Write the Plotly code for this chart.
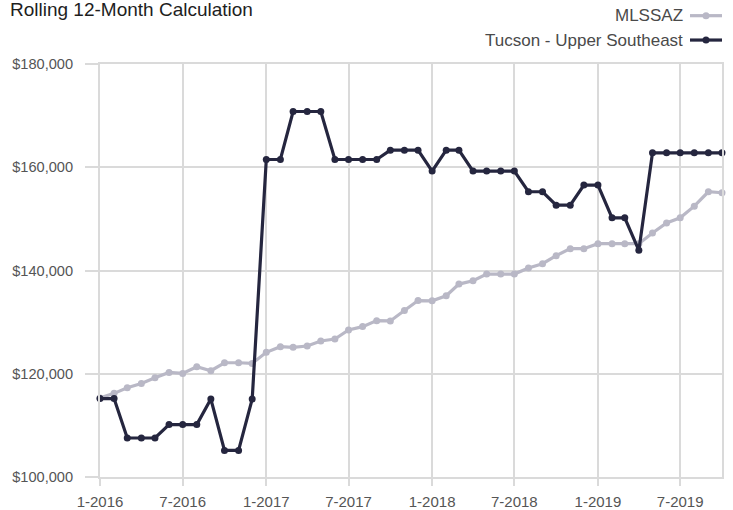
import plotly.graph_objects as go
import pandas as pd

# Monthly rolling 12-month values, Jan 2016 - Oct 2019
months = pd.date_range("2016-01-01", "2019-10-01", freq="MS")

mlssaz = [
    115300, 116200, 117270, 118120, 119210, 120260, 120070, 121360, 120590, 122130, 122130, 122000,
    124150, 125240, 125120, 125370, 126340, 126730, 128480, 129130, 130290, 130230, 132240, 134180,
    134120, 135100, 137370, 138010, 139310, 139310, 139310, 140480, 141320, 142870, 144230, 144230,
    145200, 145200, 145200, 145200, 147280, 149220, 150200, 152460, 155250, 155060,
]

tucson_upper_se = [
    115200, 115200, 107550, 107550, 107550, 110150, 110150, 110150, 115100, 105150, 105150, 115100,
    161500, 161500, 170800, 170800, 170800, 161500, 161500, 161500, 161500, 163300, 163300, 163300,
    159250, 163300, 163300, 159250, 159250, 159250, 159250, 155250, 155250, 152650, 152650, 156550,
    156550, 150200, 150200, 143900, 162800, 162800, 162800, 162800, 162800, 162800,
]

series_names = ["MLSSAZ", "Tucson - Upper Southeast"]
series_colors = ["#b9b8c6", "#25263f"]

y_range = [100000, 180000]
y_ticks = [100000, 120000, 140000, 160000, 180000]

GRID = "#dadada"
FONT = "Liberation Sans, Arial, sans-serif"

fig = go.Figure()
for name, vals, col in zip(series_names, [mlssaz, tucson_upper_se], series_colors):
    fig.add_trace(go.Scatter(
        x=months, y=vals, name=name, mode="lines+markers",
        line=dict(color=col, width=3.2),
        marker=dict(color=col, size=7),
        cliponaxis=False, showlegend=False,
    ))

# Legend drawn at the top right: label, then a line-with-dot glyph
legend_rows = [1.117, 1.058]
shapes = []
annotations = []
for name, col, yy in zip(series_names, series_colors, legend_rows):
    shapes.append(dict(type="line", xref="paper", yref="paper",
                       xsizemode="pixel", ysizemode="pixel",
                       xanchor=1, yanchor=yy, x0=-32, x1=0, y0=0, y1=0,
                       line=dict(color=col, width=3.2)))
    shapes.append(dict(type="circle", xref="paper", yref="paper",
                       xsizemode="pixel", ysizemode="pixel",
                       xanchor=1, yanchor=yy, x0=-19.5, x1=-12.5, y0=-3.5, y1=3.5,
                       fillcolor=col, line=dict(width=0)))
    annotations.append(dict(text=name, xref="paper", yref="paper", x=1, y=yy,
                            xanchor="right", yanchor="middle", xshift=-37,
                            showarrow=False,
                            font=dict(family=FONT, size=17, color="#4a4a4a")))

annotations.append(dict(text="Rolling 12-Month Calculation", xref="paper", yref="paper",
                        x=0, y=1, xshift=-92, yshift=54.5, xanchor="left", yanchor="middle",
                        showarrow=False,
                        font=dict(family=FONT, size=19, color="#1e1e1e")))

fig.update_layout(
    width=733, height=510,
    margin=dict(l=100, r=11, t=64, b=33, pad=0, autoexpand=False),
    paper_bgcolor="white", plot_bgcolor="white",
    shapes=shapes, annotations=annotations,
    hovermode="x",
)
fig.update_xaxes(
    type="date", range=[months[0], months[-1]],
    tick0="2016-01-01", dtick="M6", tickformat="%-m-%Y",
    showgrid=True, gridcolor=GRID, gridwidth=2,
    ticks="outside", ticklen=7, tickwidth=2, tickcolor=GRID,
    showline=True, mirror=True, linecolor=GRID, linewidth=2,
    zeroline=False, ticklabelstandoff=3, automargin=False,
    tickfont=dict(family=FONT, size=15, color="#555555"),
)
fig.update_yaxes(
    range=y_range, tickvals=y_ticks, tickformat="$,.0f",
    showgrid=True, gridcolor=GRID, gridwidth=2,
    ticks="outside", ticklen=13, tickwidth=2, tickcolor=GRID,
    showline=True, mirror=True, linecolor=GRID, linewidth=2,
    zeroline=False, ticklabelstandoff=9, automargin=False,
    tickfont=dict(family=FONT, size=14.6, color="#555555"),
)

fig.write_html("out.html")
